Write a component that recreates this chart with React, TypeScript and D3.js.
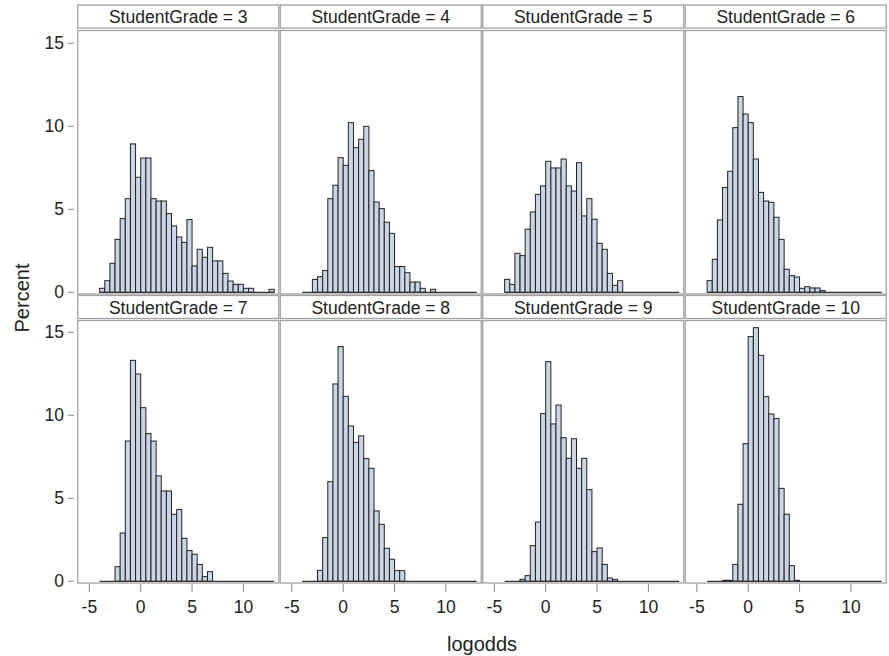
import React from "react";
import * as d3 from "d3";

// ---- data (percent per 0.5-wide logodds bin, bins start at -4) ----
const grades = [3, 4, 5, 6, 7, 8, 9, 10];
const binStart = -4;
const binWidth = 0.5;
const binCount = 34;
const xTicks = [-5, 0, 5, 10];
const yTicks = [0, 5, 10, 15];

const grade3Pct = [0.24, 0.7, 1.75, 3.19, 4.44, 5.64, 8.94, 6.93, 8.09, 8.09, 5.64, 5.5, 5.5, 4.74, 4.0, 3.33, 3.01, 4.38, 1.59, 2.59, 2.11, 2.71, 1.89, 1.89, 1.14, 0.68, 0.48, 0.48, 0.24, 0.24, 0, 0, 0, 0.18];
const grade4Pct = [0, 0, 0.78, 0.94, 1.31, 5.64, 6.45, 8.11, 7.65, 10.22, 8.71, 9.22, 10.0, 7.33, 5.44, 5.04, 4.22, 3.55, 1.55, 1.55, 1.18, 0.62, 0.62, 0.24, 0, 0.18];
const grade5Pct = [0.78, 0.48, 2.35, 2.21, 3.8, 4.84, 5.9, 6.41, 7.89, 7.49, 7.49, 8.03, 6.41, 6.1, 7.81, 4.6, 5.64, 4.4, 2.95, 2.59, 1.14, 0.42, 0.7];
const grade6Pct = [0.7, 1.99, 4.36, 6.31, 7.29, 9.92, 11.79, 10.74, 10.22, 8.03, 6.02, 5.5, 5.42, 4.52, 3.19, 1.39, 1.0, 0.92, 0.24, 0.34, 0.26, 0.26, 0.1];
const grade7Pct = [0, 0, 0, 0.88, 2.91, 8.45, 13.31, 12.49, 10.46, 8.9, 8.45, 6.35, 5.44, 5.44, 4.04, 4.32, 2.59, 1.85, 1.63, 1.02, 0.28, 0.58];
const grade8Pct = [0, 0, 0, 0.66, 2.63, 6.0, 11.89, 14.14, 11.14, 9.36, 8.37, 8.76, 7.39, 6.81, 4.24, 3.43, 1.99, 1.33, 0.64, 0.64];
const grade9Pct = [0, 0, 0, 0.12, 0.34, 2.15, 3.57, 10.1, 13.23, 9.48, 10.62, 8.65, 7.41, 8.59, 6.81, 7.41, 5.52, 1.79, 2.01, 1.02, 0.2, 0.12];
const grade10Pct = [0, 0, 0, 0.06, 0.06, 1.02, 4.64, 8.29, 14.74, 15.28, 13.61, 11.12, 10.08, 9.8, 5.6, 4.04, 0.94, 0.06];

const series = [grade3Pct, grade4Pct, grade5Pct, grade6Pct, grade7Pct, grade8Pct, grade9Pct, grade10Pct];

// ---- layout ----
const W = 889;
const H = 656;
const left0 = 77;
const colW = 202.5;
const FONT = "'Liberation Sans', Arial, sans-serif";
const TEXT = "#222";
const BORDER = "#a2a2a2";
const FILL = "#cad5e5";

const rows = [
  { headTop: 5, headBot: 28, panelTop: 30.5, zeroY: 292.3, panelBot: 294 },
  { headTop: 295.5, headBot: 318.5, panelTop: 320.5, zeroY: 581.3, panelBot: 583 },
];

const pxPerUnitX = 10.27;
const zeroOffsetX = 63.7;
const x = d3
  .scaleLinear()
  .domain([-zeroOffsetX / pxPerUnitX, (colW - zeroOffsetX) / pxPerUnitX])
  .range([0, colW]);

const pxPerUnitY = 16.6;

export default function App() {
  const bins = d3.range(binCount).map((i) => binStart + i * binWidth);
  return (
    <svg width={W} height={H} style={{ position: "absolute", left: 0, top: 0, background: "#fff" }} fontFamily={FONT}>
      {/* y label */}
      <text x={22} y={298} transform="rotate(-90 22 298)" textAnchor="middle" dominantBaseline="central" fontSize={20} fill={TEXT}>
        Percent
      </text>
      {rows.map((r, ri) => {
        const y = d3.scaleLinear().domain([0, 15]).range([r.zeroY, r.zeroY - 15 * pxPerUnitY]);
        return (
          <g key={"row" + ri}>
            {yTicks.map((t) => (
              <g key={"yt" + t}>
                <line x1={68} x2={74} y1={y(t)} y2={y(t)} stroke="#888" strokeWidth={1} />
                <text x={64} y={y(t)} textAnchor="end" dominantBaseline="central" fontSize={17.5} fill={TEXT}>
                  {t}
                </text>
              </g>
            ))}
            {[0, 1, 2, 3].map((ci) => {
              const gi = ri * 4 + ci;
              const grade = grades[gi];
              const vals = series[gi];
              const px = left0 + ci * colW;
              return (
                <g key={"p" + gi} transform={`translate(${px},0)`}>
                  {/* header */}
                  <rect x={0.75} y={r.headTop} width={colW - 1.5} height={r.headBot - r.headTop} fill="#fff" stroke={BORDER} strokeWidth={1.3} />
                  <text x={colW / 2} y={(r.headTop + r.headBot) / 2 + 0.5} textAnchor="middle" dominantBaseline="central" fontSize={17.5} fill={TEXT}>
                    {`StudentGrade = ${grade}`}
                  </text>
                  {/* panel frame */}
                  <rect x={0.75} y={r.panelTop} width={colW - 1.5} height={r.panelBot - r.panelTop} fill="#fff" stroke={BORDER} strokeWidth={1.3} />
                  {/* bars */}
                  {bins.map((b, i) => {
                    const v = vals[i] || 0;
                    if (v <= 0) return null;
                    const x0 = x(b);
                    const x1 = x(b + binWidth);
                    return (
                      <rect key={"b" + i} x={x0} y={y(v)} width={x1 - x0} height={y(0) - y(v)} fill={FILL} stroke="#222" strokeWidth={1} />
                    );
                  })}
                  <line x1={x(binStart)} x2={x(binStart + binCount * binWidth)} y1={y(0)} y2={y(0)} stroke="#333" strokeWidth={1.3} />
                  {/* x axis on bottom row */}
                  {ri === 1 &&
                    xTicks.map((t) => (
                      <g key={"xt" + t}>
                        <line x1={x(t)} x2={x(t)} y1={584} y2={592} stroke="#888" strokeWidth={1} />
                        <text x={x(t)} y={607} textAnchor="middle" dominantBaseline="central" fontSize={17.5} fill={TEXT}>
                          {t}
                        </text>
                      </g>
                    ))}
                </g>
              );
            })}
          </g>
        );
      })}
      <text x={left0 + 2 * colW} y={644} textAnchor="middle" dominantBaseline="central" fontSize={20} fill={TEXT}>
        logodds
      </text>
    </svg>
  );
}
